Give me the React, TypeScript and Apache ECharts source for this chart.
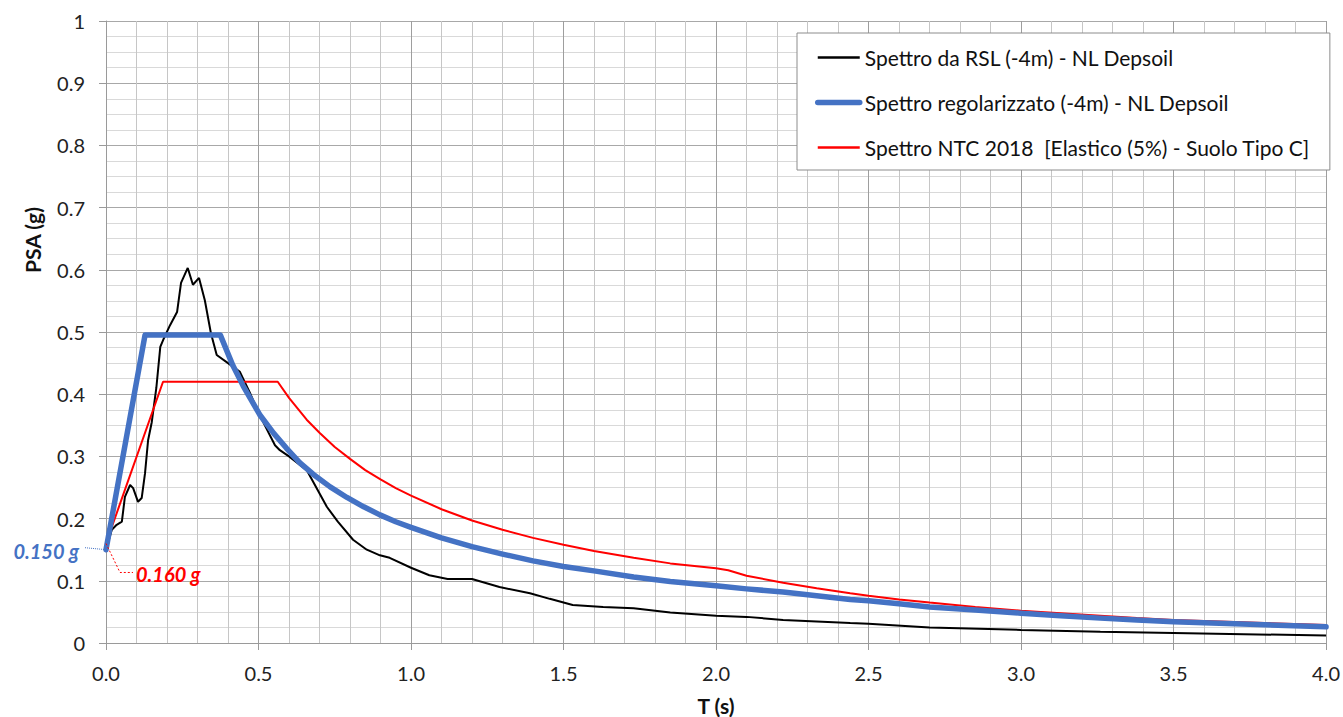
import React, { useEffect, useRef } from "react";
import * as echarts from "echarts";

const SERIES_NAMES = [
  "Spettro da RSL (-4m) - NL Depsoil",
  "Spettro regolarizzato (-4m) - NL Depsoil",
  "Spettro NTC 2018  [Elastico (5%) - Suolo Tipo C]",
];

// T (s), PSA (g)
const rslT = [0, 0.019, 0.035, 0.052, 0.062, 0.079, 0.089, 0.105, 0.117, 0.128, 0.138, 0.15, 0.165, 0.178, 0.19, 0.21, 0.233, 0.246, 0.268, 0.285, 0.305, 0.324, 0.344, 0.363, 0.4, 0.439, 0.472, 0.5, 0.554, 0.57, 0.6, 0.658, 0.724, 0.76, 0.81, 0.855, 0.898, 0.93, 1.0, 1.06, 1.12, 1.2, 1.29, 1.39, 1.455, 1.53, 1.63, 1.73, 1.85, 2.0, 2.1, 2.22, 2.44, 2.5, 2.7, 3.0, 3.26, 3.5, 4.0];
const rslPSA = [0.15, 0.182, 0.19, 0.195, 0.235, 0.254, 0.249, 0.227, 0.233, 0.273, 0.326, 0.355, 0.41, 0.476, 0.49, 0.511, 0.532, 0.579, 0.603, 0.576, 0.587, 0.551, 0.498, 0.463, 0.45, 0.436, 0.402, 0.37, 0.318, 0.31, 0.3, 0.278, 0.219, 0.195, 0.166, 0.15, 0.141, 0.137, 0.121, 0.109, 0.103, 0.103, 0.09, 0.08, 0.071, 0.061, 0.058, 0.056, 0.049, 0.044, 0.042, 0.037, 0.032, 0.031, 0.025, 0.021, 0.018, 0.016, 0.012];

const regT = [0, 0.128, 0.375, 0.416, 0.45, 0.504, 0.55, 0.592, 0.635, 0.68, 0.735, 0.79, 0.845, 0.898, 0.95, 1.0, 1.1, 1.2, 1.3, 1.4, 1.5, 1.6, 1.73, 1.85, 2.0, 2.1, 2.22, 2.33, 2.44, 2.5, 2.6, 2.7, 2.85, 3.0, 3.13, 3.26, 3.38, 3.5, 3.75, 4.0];
const regPSA = [0.15, 0.495, 0.495, 0.446, 0.413, 0.367, 0.337, 0.313, 0.29, 0.271, 0.251, 0.234, 0.219, 0.206, 0.195, 0.186, 0.169, 0.155, 0.143, 0.132, 0.123, 0.116, 0.106, 0.099, 0.092, 0.087, 0.082, 0.076, 0.07, 0.068, 0.063, 0.058, 0.053, 0.048, 0.044, 0.04, 0.037, 0.034, 0.03, 0.026];

const ntcT = [0, 0.187, 0.563, 0.6, 0.658, 0.7, 0.75, 0.8, 0.85, 0.9, 0.95, 1.0, 1.1, 1.2, 1.3, 1.4, 1.5, 1.6, 1.73, 1.85, 2.0, 2.04, 2.1, 2.22, 2.33, 2.44, 2.5, 2.6, 2.7, 2.85, 3.0, 3.13, 3.26, 3.38, 3.5, 3.75, 4.0];
const ntcPSA = [0.16, 0.42, 0.42, 0.394, 0.359, 0.338, 0.315, 0.296, 0.278, 0.263, 0.249, 0.237, 0.215, 0.197, 0.182, 0.169, 0.158, 0.148, 0.137, 0.128, 0.12, 0.117, 0.108, 0.097, 0.088, 0.08, 0.076, 0.07, 0.065, 0.058, 0.052, 0.048, 0.044, 0.04, 0.037, 0.033, 0.029];

const ANN_BLUE = { t: 0, v: 0.15, text: "0.150 g" };
const ANN_RED = { t: 0, v: 0.16, text: "0.160 g" };

const FONT = "Lato, 'Open Sans', sans-serif";
const BLUE = "#4472C4";
const RED = "#FF0000";

const zip = (a: number[], b: number[]) => a.map((x, i) => [x, b[i]]);

export default function App() {
  const ref = useRef<HTMLDivElement>(null);
  useEffect(() => {
    if (!ref.current) return;
    const chart = echarts.init(ref.current, undefined, { renderer: "svg" });
    chart.setOption({
      animation: false,
      backgroundColor: "#fff",
      grid: { left: 106, top: 21, right: 16, bottom: 74, containLabel: false },
      legend: {
        data: [
          { name: SERIES_NAMES[0], lineStyle: { width: 2.5, color: "#000" } },
          { name: SERIES_NAMES[1], lineStyle: { width: 5.5, color: BLUE, cap: "round" } },
          { name: SERIES_NAMES[2], lineStyle: { width: 2.5, color: RED } },
        ],
        orient: "vertical",
        left: 797,
        top: 33,
        padding: [14, 20, 12, 18],
        itemWidth: 42,
        itemHeight: 14,
        itemGap: 24,
        backgroundColor: "#fff",
        borderColor: "#8c8c8c",
        borderWidth: 1,
        itemStyle: { opacity: 0, borderWidth: 0 },
        textStyle: { fontFamily: FONT, fontSize: 21, lineHeight: 20, color: "#111" },
      },
      xAxis: {
        type: "value",
        min: 0,
        max: 4,
        interval: 0.5,
        axisLine: { show: true, onZero: false, lineStyle: { color: "#9a9a9a", width: 1 } },
        axisTick: { show: true, length: 7, lineStyle: { color: "#9a9a9a" } },
        minorTick: { show: false, splitNumber: 5 },
        splitLine: { show: true, lineStyle: { color: "#9e9e9e", width: 1 } },
        minorSplitLine: { show: true, lineStyle: { color: "#c6c6c6", width: 1 } },
        axisLabel: {
          margin: 20,
          fontFamily: FONT,
          fontSize: 20,
          color: "#222",
          formatter: (v: number) => v.toFixed(1),
        },
      },
      yAxis: {
        type: "value",
        min: 0,
        max: 1,
        interval: 0.1,
        axisLine: { show: true, onZero: false, lineStyle: { color: "#9a9a9a", width: 1 } },
        axisTick: { show: true, length: 7, lineStyle: { color: "#9a9a9a" } },
        minorTick: { show: false, splitNumber: 4 },
        splitLine: { show: true, lineStyle: { color: "#a8a8a8", width: 1 } },
        minorSplitLine: { show: true, lineStyle: { color: "#d9d9d9", width: 1 } },
        axisLabel: {
          margin: 21,
          fontFamily: FONT,
          fontSize: 20,
          color: "#222",
          formatter: (v: number) => (v === 0 ? "0" : Math.abs(v - 1) < 1e-9 ? "1" : v.toFixed(1)),
        },
      },
      series: [
        {
          name: SERIES_NAMES[0],
          type: "line",
          data: zip(rslT, rslPSA),
          showSymbol: false,
          symbol: "none",
          z: 2,
          lineStyle: { color: "#000", width: 2 },
          itemStyle: { color: "#000" },
        },
        {
          name: SERIES_NAMES[1],
          type: "line",
          data: zip(regT, regPSA),
          showSymbol: false,
          symbol: "none",
          z: 4,
          lineStyle: { color: BLUE, width: 5.5, cap: "round", join: "round" },
          itemStyle: { color: BLUE },
        },
        {
          name: SERIES_NAMES[2],
          type: "line",
          data: zip(ntcT, ntcPSA),
          showSymbol: false,
          symbol: "none",
          z: 3,
          lineStyle: { color: RED, width: 2 },
          itemStyle: { color: RED },
        },
      ],
    });

    const pb = chart.convertToPixel({ gridIndex: 0 }, [ANN_BLUE.t, ANN_BLUE.v]) as number[];
    const pr = chart.convertToPixel({ gridIndex: 0 }, [ANN_RED.t, ANN_RED.v]) as number[];
    chart.setOption({
      graphic: [
        {
          type: "text",
          x: 32,
          y: 240,
          rotation: Math.PI / 2,
          style: { text: "PSA (g)", font: `bold 21px ${FONT}`, fill: "#111", align: "center", verticalAlign: "middle" },
          z: 10,
        },
        {
          type: "text",
          x: 716,
          y: 705,
          style: { text: "T (s)", font: `bold 21px ${FONT}`, fill: "#111", align: "center", verticalAlign: "middle" },
          z: 10,
        },
        {
          type: "line",
          shape: { x1: pb[0] - 21, y1: pb[1] - 2, x2: pb[0], y2: pb[1] },
          style: { stroke: BLUE, lineWidth: 1, lineDash: [1, 1] },
          z: 10,
        },
        {
          type: "text",
          x: pb[0] - 27,
          y: pb[1] + 1,
          style: { text: ANN_BLUE.text, font: `italic bold 20px ${FONT}`, fill: BLUE, align: "right", verticalAlign: "middle" },
          z: 10,
        },
        {
          type: "polyline",
          shape: { points: [[pr[0], pr[1]], [pr[0] + 14, pr[1] + 29], [pr[0] + 27, pr[1] + 29]] },
          style: { stroke: RED, lineWidth: 1, lineDash: [2, 2], fill: "none" },
          z: 10,
        },
        {
          type: "text",
          x: pr[0] + 30,
          y: pr[1] + 31,
          style: { text: ANN_RED.text, font: `italic bold 20px ${FONT}`, fill: RED, align: "left", verticalAlign: "middle" },
          z: 10,
        },
      ],
    });
    return () => chart.dispose();
  }, []);
  return (
    <div
      ref={ref}
      style={{ position: "fixed", left: 0, top: 0, width: 1343, height: 717 }}
    />
  );
}
